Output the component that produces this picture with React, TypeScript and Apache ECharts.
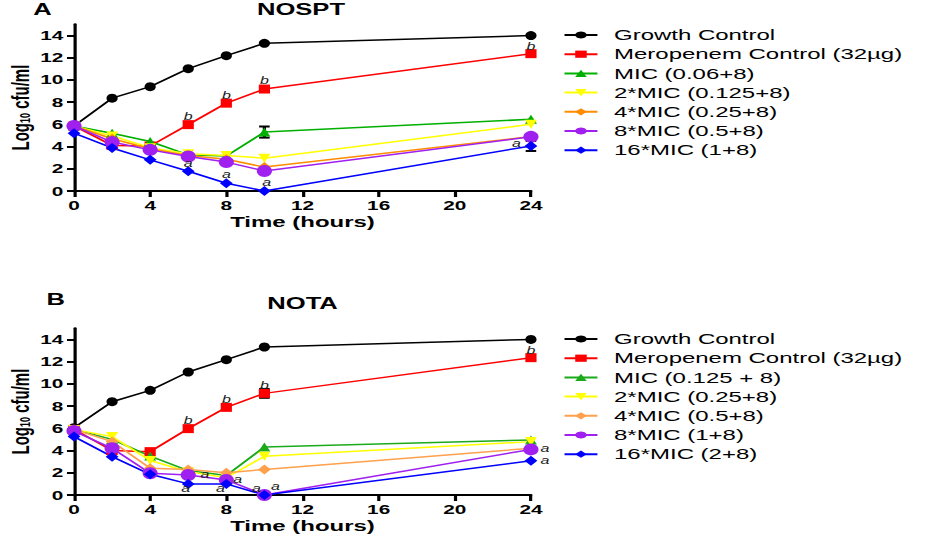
import React, { useEffect, useRef } from "react";
import * as echarts from "echarts";

// ---------- data ----------
const hours = [0, 2, 4, 6, 8, 10, 24];
const yTickValues = [0, 2, 4, 6, 8, 10, 12, 14];

const namesA = [
  "Growth Control",
  "Meropenem Control (32µg)",
  "MIC (0.06+8)",
  "2*MIC (0.125+8)",
  "4*MIC (0.25+8)",
  "8*MIC (0.5+8)",
  "16*MIC (1+8)",
];
const namesB = [
  "Growth Control",
  "Meropenem Control (32µg)",
  "MIC (0.125 + 8)",
  "2*MIC (0.25+8)",
  "4*MIC (0.5+8)",
  "8*MIC (1+8)",
  "16*MIC (2+8)",
];

// Panel A: NOSPT
const growthA = [5.85, 8.35, 9.38, 11.0, 12.17, 13.28, 13.98];
const meroA = [5.85, 4.1, 4.05, 5.97, 7.9, 9.17, 12.35];
const mic1A = [5.85, 5.2, 4.45, 3.25, 3.15, 5.3, 6.45];
const mic2A = [5.85, 4.95, 3.9, 3.35, 3.2, 2.95, 6.0];
const mic4A = [5.85, 4.7, 3.8, 3.2, 2.85, 2.15, 4.9];
const mic8A = [5.85, 4.4, 3.7, 3.1, 2.6, 1.8, 4.87];
const mic16A = [5.2, 3.87, 2.8, 1.78, 0.7, 0, 4.05];

// Panel B: NOTA
const growthB = [6.05, 8.39, 9.41, 11.06, 12.17, 13.31, 13.99];
const meroB = [5.9, 4.0, 3.9, 5.97, 7.88, 9.14, 12.35];
const mic1B = [5.9, 5.0, 3.5, 2.2, 1.75, 4.32, 4.95];
const mic2B = [5.9, 5.25, 3.1, 2.1, 1.55, 3.48, 4.8];
const mic4B = [5.9, 4.8, 2.4, 2.3, 2.0, 2.3, 4.2];
const mic8B = [5.75, 4.2, 1.95, 1.8, 1.35, 0, 4.1];
const mic16B = [5.25, 3.45, 1.86, 1.0, 1.0, 0, 3.08];

// error bars: hour, mean, sd
const errHoursA = [10, 24];
const errMeansA = [5.3, 4.05];
const errSdA = [0.5, 0.45];
const errHoursB = [10];
const errMeansB = [9.14];
const errSdB = [0.4];

// significance letters
const meroMarksA = ["", "", "", "b", "b", "b", "b"];
const mic16MarksA = ["", "", "", "a", "a", "a", "a"];
const meroMarksB = ["", "", "", "b", "b", "b", "b"];
const mic8MarksB = ["", "", "", "a", "a", "a", "a"];
const mic16MarksB = ["", "", "", "a", "a", "a", "a"];

// ---------- layout / style ----------
const W = 580;
const S = 927 / W;
const FONT = '"Liberation Sans", Arial, Helvetica, sans-serif';

const bOffsets = [null, null, null, [0, -8], [0, -8], [0, -8], [0, -7]];
const aOffsetsA = [null, null, null, [0, -8], [0, -9], [1.5, -8], [-9, -2]];
const aOffsetsB8 = [null, null, null, [10.4, 0], [7.1, 0], [-5, -6], [8.75, -1]];
const aOffsetsB16 = [null, null, null, [-1.6, 5], [-3.7, 5], [6.9, -8], [8.75, 0]];

const symbolsA = [
  { color: "#000000", symbol: "circle", size: [7, 9], rotate: 0 },
  { color: "#ff0000", symbol: "rect", size: [7, 9], rotate: 0 },
  { color: "#00b000", symbol: "triangle", size: [7.5, 9], rotate: 0 },
  { color: "#ffff00", symbol: "triangle", size: [7.5, 9], rotate: 180 },
  { color: "#ff8c00", symbol: "diamond", size: [8, 10], rotate: 0 },
  { color: "#a020f0", symbol: "circle", size: [9.5, 12], rotate: 0 },
  { color: "#0000ff", symbol: "diamond", size: [8, 10], rotate: 0 },
];
const symbolsB = symbolsA.map((s, i) =>
  i === 2 ? { ...s, color: "#1aaa1a" } : i === 4 ? { ...s, color: "#ffa04d" } : s
);

const gridLeft = 46.3;
const gridWidth = 285.9;
const gridH = 166.8;
const gridTopA = 24.2;
const gridTopB = 328.2;

function buildData(vals: number[], marks?: string[], offsets?: any[]) {
  return vals.map((v, i) => {
    const item: any = { value: [hours[i], v] };
    if (marks && marks[i]) {
      item.label = {
        show: true,
        formatter: marks[i],
        position: "inside",
        offset: offsets ? offsets[i] : [0, -8],
        fontStyle: "italic",
        fontSize: 10,
        fontFamily: FONT,
        color: "#222",
      };
    }
    return item;
  });
}

function errorSeries(idx: number, hrs: number[], means: number[], sds: number[]) {
  return {
    type: "custom",
    xAxisIndex: idx,
    yAxisIndex: idx,
    z: 1,
    silent: true,
    data: hrs.map((h, i) => [h, means[i], sds[i]]),
    encode: { x: 0, y: 1 },
    renderItem: (params: any, api: any) => {
      const x = api.value(0);
      const y = api.value(1);
      const e = api.value(2);
      const top = api.coord([x, y + e]);
      const bot = api.coord([x, y - e]);
      const hw = 3.3;
      const st = { stroke: "#000", lineWidth: 2 };
      return {
        type: "group",
        children: [
          { type: "line", shape: { x1: top[0], y1: top[1], x2: bot[0], y2: bot[1] }, style: st },
          { type: "line", shape: { x1: top[0] - hw, y1: top[1], x2: top[0] + hw, y2: top[1] }, style: st },
          { type: "line", shape: { x1: bot[0] - hw, y1: bot[1], x2: bot[0] + hw, y2: bot[1] }, style: st },
        ],
      };
    },
  };
}

function lineSeries(idx: number, names: string[], valueSets: number[][], syms: any[], markSets: any[], offsetSets: any[]) {
  return names.map((n, k) => ({
    type: "line",
    name: n,
    xAxisIndex: idx,
    yAxisIndex: idx,
    data: buildData(valueSets[k], markSets[k], offsetSets[k]),
    symbol: syms[k].symbol,
    symbolSize: syms[k].size,
    symbolRotate: syms[k].rotate,
    showSymbol: true,
    itemStyle: { color: syms[k].color },
    lineStyle: { color: syms[k].color, width: 1.5 },
    z: 2,
  }));
}

function xAxis(idx: number) {
  return {
    type: "value",
    gridIndex: idx,
    min: 0,
    max: 24,
    interval: 4,
    axisLine: { lineStyle: { color: "#000", width: 2 } },
    axisTick: { length: 6, lineStyle: { color: "#000", width: 2 } },
    axisLabel: { margin: 8, fontWeight: "bold", fontSize: 13, fontFamily: FONT, color: "#000" },
    splitLine: { show: false },
    name: "Time (hours)",
    nameLocation: "middle",
    nameGap: 23,
    nameTextStyle: { fontWeight: "bold", fontSize: 15, fontFamily: FONT, color: "#000" },
  };
}

function yAxis(idx: number) {
  return {
    type: "value",
    gridIndex: idx,
    min: 0,
    max: 15,
    interval: 2,
    axisLine: { show: true, lineStyle: { color: "#000", width: 2 } },
    axisTick: { show: true, length: 4.4, customValues: yTickValues, lineStyle: { color: "#000", width: 2 } },
    axisLabel: { customValues: yTickValues, margin: 6.7, fontWeight: "bold", fontSize: 13, fontFamily: FONT, color: "#000" },
    splitLine: { show: false },
    name: "{n|Log}{s|10}{n| cfu/ml}",
    nameLocation: "middle",
    nameRotate: 90,
    nameGap: 26,
    nameTextStyle: {
      rich: {
        n: { fontWeight: "bold", fontSize: 15, fontFamily: FONT, color: "#000", lineHeight: 17, verticalAlign: "bottom" },
        s: { fontWeight: "bold", fontSize: 9, fontFamily: FONT, color: "#000", lineHeight: 17, verticalAlign: "bottom" },
      },
    },
  };
}

function legend(names: string[], centerY: number) {
  return {
    orient: "vertical",
    left: 352.2,
    top: centerY - 7.5,
    padding: 0,
    itemWidth: 20.6,
    itemHeight: 9,
    itemGap: 4.2,
    data: names,
    textStyle: { fontSize: 15, fontFamily: FONT, color: "#000", padding: [0, 0, 0, 5.4] },
  };
}

export default function App() {
  const ref = useRef<HTMLDivElement>(null);
  useEffect(() => {
    if (!ref.current) return;
    const chart = echarts.init(ref.current, undefined, { renderer: "svg" });
    const titleFont = `bold 16px ${FONT}`;
    chart.setOption({
      animation: false,
      backgroundColor: "#fff",
      grid: [
        { left: gridLeft, top: gridTopA, width: gridWidth, height: gridH },
        { left: gridLeft, top: gridTopB, width: gridWidth, height: gridH },
      ],
      xAxis: [xAxis(0), xAxis(1)],
      yAxis: [yAxis(0), yAxis(1)],
      legend: [legend(namesA, 35), legend(namesB, 339)],
      graphic: [
        { type: "text", x: 26.6, y: 9.5, style: { text: "A", font: titleFont, fill: "#000", align: "center", verticalAlign: "middle" } },
        { type: "text", x: 188.3, y: 9.5, style: { text: "NOSPT", font: titleFont, fill: "#000", align: "center", verticalAlign: "middle" } },
        { type: "text", x: 34.9, y: 300, style: { text: "B", font: titleFont, fill: "#000", align: "center", verticalAlign: "middle" } },
        { type: "text", x: 189.3, y: 303.8, style: { text: "NOTA", font: titleFont, fill: "#000", align: "center", verticalAlign: "middle" } },
      ],
      series: [
        ...lineSeries(
          0,
          namesA,
          [growthA, meroA, mic1A, mic2A, mic4A, mic8A, mic16A],
          symbolsA,
          [null, meroMarksA, null, null, null, null, mic16MarksA],
          [null, bOffsets, null, null, null, null, aOffsetsA]
        ),
        errorSeries(0, errHoursA, errMeansA, errSdA),
        ...lineSeries(
          1,
          namesB,
          [growthB, meroB, mic1B, mic2B, mic4B, mic8B, mic16B],
          symbolsB,
          [null, meroMarksB, null, null, null, mic8MarksB, mic16MarksB],
          [null, bOffsets, null, null, null, aOffsetsB8, aOffsetsB16]
        ),
        errorSeries(1, errHoursB, errMeansB, errSdB),
      ],
    });
    return () => chart.dispose();
  }, []);
  return (
    <div style={{ position: "fixed", left: 0, top: 0, width: 927, height: 554, overflow: "hidden", background: "#fff" }}>
      <div
        ref={ref}
        style={{ width: W, height: 554, transform: `scaleX(${S})`, transformOrigin: "0 0" }}
      />
    </div>
  );
}
